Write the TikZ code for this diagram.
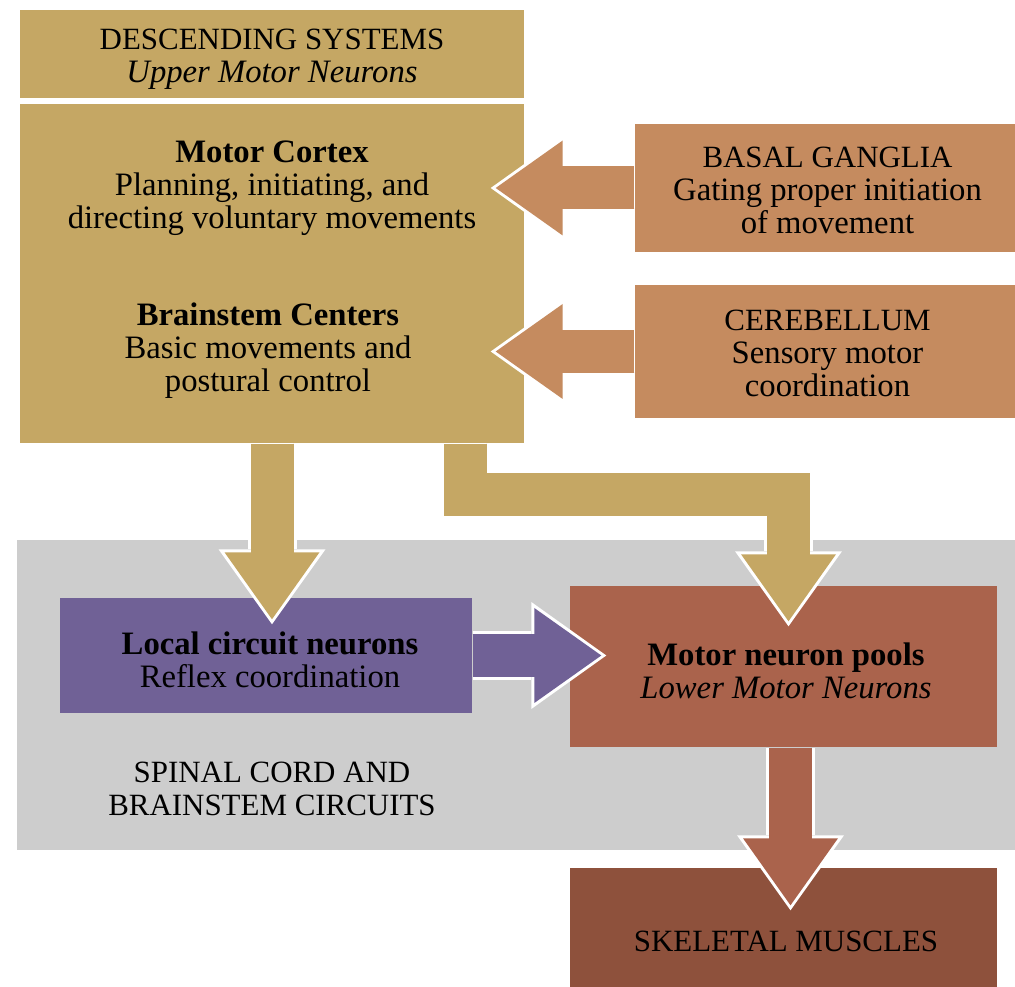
\documentclass[tikz,border=0pt]{standalone}
\usepackage{fontspec}
\setmainfont{Liberation Serif}
\usetikzlibrary{arrows.meta}

\definecolor{descend}{RGB}{197,167,100}
\definecolor{modulator}{RGB}{197,139,95}
\definecolor{spinalgray}{RGB}{205,205,205}
\definecolor{localcircuit}{RGB}{112,97,150}
\definecolor{lowermotor}{RGB}{170,99,76}
\definecolor{muscle}{RGB}{142,81,60}

% broad arrow with a thin white rim: #1 colour, #2 overshoot of the tip, #3 path
\newcommand{\fatarrow}[3]{%
  \draw[fat-rim, shorten >=-#2-0.5mm] #3;
  \draw[fat, #1, shorten >=-#2] #3;
  \draw[fat-shaft, #1, shorten >=5mm-#2] #3;
}

\begin{document}
\begin{tikzpicture}[x=0.1mm, y=-0.1mm]
    \tikzstyle{box}=[inner sep=0pt, align=center, font=\fontsize{9.3pt}{9.4pt}\selectfont]
    \tikzstyle{caps}=[box, font=\fontsize{8.8pt}{9.4pt}\selectfont]
    \tikzstyle{fat}=[line width=4.3mm, -{Triangle[line width=0pt, length=6.7mm, width=9.5mm]}]
    \tikzstyle{fat-shaft}=[line width=4.3mm]
    \tikzstyle{fat-rim}=[white, line width=4.9mm, -{Triangle[line width=0pt, length=7.5mm, width=10.7mm]}]

    \useasboundingbox (0,0) rectangle (1015,987);

    % upper motor neurons
    \node[box, fill=descend, minimum width=50.4mm, minimum height=8.8mm] (title) at (272,54) {};
    \node[caps] (title-text) at ([yshift=-0.5mm]title.center) {DESCENDING SYSTEMS\\\textit{\fontsize{9.3pt}{9.4pt}\selectfont Upper Motor Neurons}};
    \node[box, fill=descend, minimum width=50.4mm, minimum height=33.9mm] (main) at (272,273.5) {};
    \node[box] (cortex) at (272,188) {\textbf{Motor Cortex}\\Planning, initiating, and\\directing voluntary movements};
    \node[box] (brainstem) at (268,351) {\textbf{Brainstem Centers}\\Basic movements and\\postural control};

    % modulators
    \node[box, fill=modulator, minimum width=38.5mm, minimum height=12.8mm] (basal) at (827.5,188) {};
    \node[box] (basal-text) at ([yshift=-0.2mm]basal.center) {{\fontsize{8.8pt}{9.4pt}\selectfont BASAL GANGLIA}\\Gating proper initiation\\of movement};
    \node[box, fill=modulator, minimum width=38.5mm, minimum height=13.3mm] (cerebellum) at (827.5,351.5) {};
    \node[box] (cerebellum-text) at ([yshift=-0.2mm]cerebellum.center) {{\fontsize{8.8pt}{9.4pt}\selectfont CEREBELLUM}\\Sensory motor\\coordination};

    % spinal cord and brainstem circuits
    \node[box, fill=spinalgray, minimum width=99.8mm, minimum height=31mm] (spinal) at (516,695) {};
    \node[caps] (spinal-label) at (272,789) {SPINAL CORD AND\\BRAINSTEM CIRCUITS};
    \node[box, fill=localcircuit, minimum width=41.2mm, minimum height=11.5mm] (local) at (266,655.5) {};
    \node[box] (local-text) at (270,660) {\textbf{Local circuit neurons}\\Reflex coordination};
    \node[box, fill=lowermotor, minimum width=42.7mm, minimum height=16.1mm] (pools) at (783.5,666.5) {};
    \node[box] (pools-text) at (786,671) {\textbf{Motor neuron pools}\\\textit{Lower Motor Neurons}};
    \node[box, fill=muscle, minimum width=42.7mm, minimum height=13.2mm] (muscles) at (783.5,934) {};
    \node[caps] (muscles-text) at (786,941) {SKELETAL MUSCLES};

    \coordinate (split) at (465,495);
    \coordinate (pools-in) at ([xshift=0.5mm]pools.north);
    \coordinate (pools-out) at ([xshift=0.7mm]pools.south);

    \fatarrow{modulator}{2.9mm}{(basal.west) -- (basal.west -| main.east)}
    \fatarrow{modulator}{2.9mm}{(cerebellum.west) -- (cerebellum.west -| main.east)}
    \fatarrow{descend}{2.2mm}{(main.south) -- (main.south |- local.north)}
    \fatarrow{descend}{3.6mm}{(main.south -| split) -- (split) -- (split -| pools-in) -- (pools-in)}
    \fatarrow{localcircuit}{3.2mm}{(local.east) -- (local.east -| pools.west)}
    \fatarrow{lowermotor}{3.8mm}{(pools-out) -- (pools-out |- muscles.north)}
\end{tikzpicture}
\end{document}
